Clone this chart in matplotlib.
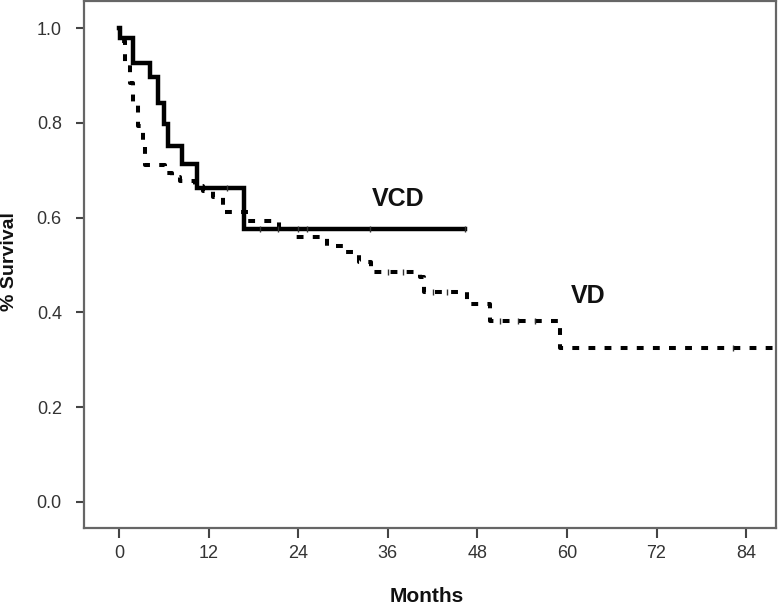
import numpy as np
import matplotlib.pyplot as plt

plt.rcParams['font.family'] = ['Liberation Sans', 'DejaVu Sans']

# Kaplan-Meier steps (months, survival)
vcd_months = [0, 0.2, 1.9, 4.15, 5.27, 6.0, 6.6, 8.4, 10.4, 16.8, 46.4]
vcd_surv = [1.0, 0.979, 0.927, 0.896, 0.843, 0.797, 0.752, 0.713, 0.662, 0.577, 0.577]
vcd_censor = [14.5, 18.9, 21.3, 24.0, 25.2, 33.6, 46.4]

vd_months = [0, 0.13, 0.8, 1.47, 1.9, 2.6, 3.26, 3.5, 6.2, 7.1, 8.2, 10.2, 11.3,
             12.6, 13.9, 17.3, 21.4, 23.7, 27.8, 30.0, 32.1, 33.8, 40.3, 40.8,
             46.6, 49.7, 59.1, 88.0]
vd_surv = [1.0, 0.973, 0.927, 0.885, 0.84, 0.794, 0.752, 0.712, 0.695, 0.685, 0.678,
           0.667, 0.657, 0.643, 0.611, 0.594, 0.576, 0.559, 0.541, 0.527, 0.506,
           0.485, 0.474, 0.443, 0.418, 0.383, 0.326, 0.326]
vd_censor = [36.0, 38.0, 42.0, 43.9, 51.0, 53.5, 55.7, 82.3]

x_ticks = [0, 12, 24, 36, 48, 60, 72, 84]
y_ticks = [0.0, 0.2, 0.4, 0.6, 0.8, 1.0]


def surv_at(times, months, surv):
    idx = np.searchsorted(months, times, side='right') - 1
    return np.array(surv)[idx]


fig = plt.figure(figsize=(7.79, 6.06), dpi=100)
ax = fig.add_axes([0.1078, 0.1287, 0.8883, 0.8693])

ax.step(vcd_months, vcd_surv, where='post', color='black', lw=3.2, solid_joinstyle='miter')
ax.step(vd_months, vd_surv, where='post', color='black', lw=2.9,
        linestyle=(0, (1.7, 2.3)), dash_capstyle='butt')

ax.plot(vcd_censor, surv_at(vcd_censor, vcd_months, vcd_surv), linestyle='none',
        marker='|', markersize=5, markeredgewidth=1, color='#333333')
ax.plot(vd_censor, surv_at(vd_censor, vd_months, vd_surv), linestyle='none',
        marker='|', markersize=5, markeredgewidth=1, color='#333333')

ax.text(37.4, 0.64, 'VCD', fontsize=18, fontweight='bold', ha='center', va='center', color='#111111')
ax.text(62.8, 0.434, 'VD', fontsize=18, fontweight='bold', ha='center', va='center', color='#111111')

ax.set_xlim(-4.69, 88.0)
ax.set_ylim(-0.055, 1.057)
ax.set_xticks(x_ticks)
ax.set_yticks(y_ticks)
ax.set_yticklabels(['%.1f' % v for v in y_ticks])

for side in ax.spines:
    ax.spines[side].set_color('#666666')
    ax.spines[side].set_linewidth(1.6)

ax.tick_params(axis='x', direction='out', length=7, width=1.5, color='#444444',
               pad=5, labelsize=13, labelcolor='#333333')
ax.tick_params(axis='y', direction='out', length=6, width=1.5, color='#444444',
               pad=10, labelsize=13, labelcolor='#333333')

ax.set_xlabel('Months', fontsize=15, fontweight='bold', color='#111111')
ax.set_ylabel('% Survival', fontsize=14, fontweight='bold', color='#111111')
ax.xaxis.set_label_coords(0.496, -0.112)
ax.yaxis.set_label_coords(-0.096, 0.505)

plt.savefig('out.png', dpi=100)
